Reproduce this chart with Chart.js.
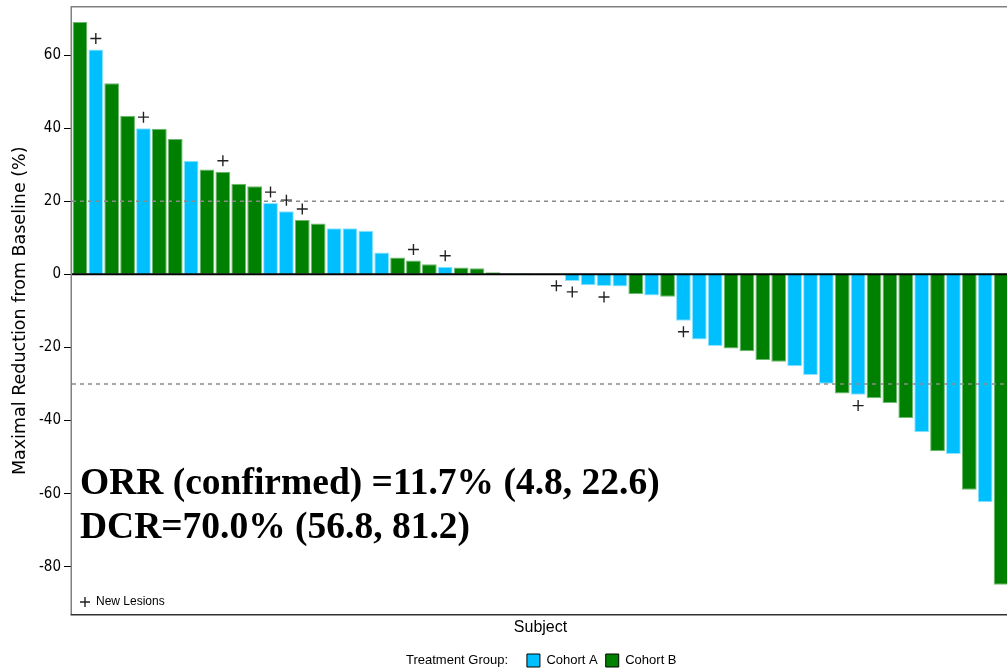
<!DOCTYPE html>
<html>
<head>
<meta charset="utf-8">
<script src="https://cdn.jsdelivr.net/npm/chart.js@4/dist/chart.umd.min.js"></script>
<style>
  html, body { margin: 0; padding: 0; background: #fff; overflow: hidden; }
  canvas { display: block; }
</style>
</head>
<body>
<canvas id="waterfall" width="1063" height="668"></canvas>
<script>
// ==============================
// Datos
// ==============================
const subjects = ['1','2','3','4','5','6','7','8','9','10','11','12','13','14','15','16','17','18','19','20',
  '21','22','23','24','25','26','27','28','29','30','31','32','33','34','35','36','37','38','39','40',
  '41','42','43','44','45','46','47','48','49','50','51','52','53','54','55','56','57','58','59'];

const values = [69.0, 61.5, 52.3, 43.4, 40.0, 39.8, 37.0, 31.1, 28.7, 28.1,
  24.8, 24.1, 19.5, 17.3, 14.9, 13.9, 12.6, 12.6, 11.9, 6.0,
  4.6, 3.8, 2.8, 2.1, 1.9, 1.7, 0.6, 0.3, 0.3, 0,
  -0.1, -1.8, -3.0, -3.2, -3.3, -5.4, -5.8, -6.1, -12.7, -17.8,
  -19.6, -20.3, -21.0, -23.4, -23.9, -25.1, -27.5, -29.9, -32.6, -32.9,
  -33.9, -35.2, -39.3, -43.2, -48.4, -49.1, -58.9, -62.3, -84.9];

const cohort = ['B','A','B','B','A','B','B','A','B','B',
  'B','B','A','A','B','B','A','A','A','A',
  'B','B','B','A','B','B','B','A','A','A',
  'A','A','A','A','A','B','A','B','A','A',
  'A','B','B','B','B','A','A','A','B','A',
  'B','B','B','A','B','A','B','A','B'];

// 1 = nueva lesión
const newLesion = [0,1,0,0,1,0,0,0,0,1,
  0,0,1,1,1,0,0,0,0,0,
  0,1,0,1,0,0,0,0,0,0,
  1,1,0,1,0,0,0,0,1,0,
  0,0,0,0,0,0,0,0,0,1,
  0,0,0,0,0,0,0,0,0];

const yTicks = [60, 40, 20, 0, -20, -40, -60, -80];
const refLines = [20, -30];
const summaryLines = ['ORR (confirmed) =11.7% (4.8, 22.6)', 'DCR=70.0% (56.8, 81.2)'];

// ==============================
// Estilos
// ==============================
const colorA = '#00BFFF';
const colorB = '#008000';
const plusGap = 3;       // separación de la cruz respecto a la barra (unidades del eje)
const narrow = '"Liberation Sans Narrow", "DejaVu Sans Condensed", sans-serif';

function drawCross(ctx, x, y, r) {
  ctx.beginPath();
  ctx.moveTo(x - r, y); ctx.lineTo(x + r, y);
  ctx.moveTo(x, y - r); ctx.lineTo(x, y + r);
  ctx.stroke();
}

// Marco, líneas de referencia y textos
const extras = {
  id: 'extras',
  afterDatasetsDraw(chart) {
    const { ctx, chartArea: a, scales: { y } } = chart;
    ctx.save();
    // líneas punteadas
    ctx.setLineDash([4, 4]);
    ctx.strokeStyle = '#8a8a8a';
    ctx.lineWidth = 1.5;
    refLines.forEach(v => {
      const py = y.getPixelForValue(v);
      ctx.beginPath(); ctx.moveTo(a.left, py); ctx.lineTo(a.right, py); ctx.stroke();
    });
    ctx.setLineDash([]);
    // línea de cero
    const y0 = y.getPixelForValue(0);
    ctx.strokeStyle = '#000';
    ctx.lineWidth = 2;
    ctx.beginPath(); ctx.moveTo(a.left, y0); ctx.lineTo(a.right, y0); ctx.stroke();
    // marco
    ctx.strokeStyle = '#808080';
    ctx.lineWidth = 1.5;
    ctx.beginPath();
    ctx.moveTo(a.left - 0.75, a.bottom); ctx.lineTo(a.left - 0.75, a.top - 0.75); ctx.lineTo(a.right, a.top - 0.75);
    ctx.stroke();
    ctx.strokeStyle = '#333';
    ctx.beginPath(); ctx.moveTo(a.left - 1.5, a.bottom + 0.75); ctx.lineTo(a.right, a.bottom + 0.75); ctx.stroke();
    ctx.restore();
  },
  afterDraw(chart) {
    const { ctx, chartArea: a } = chart;
    ctx.save();
    ctx.fillStyle = '#000';
    ctx.textBaseline = 'alphabetic';
    ctx.font = 'bold 37.5px "Liberation Serif", "Times New Roman", serif';
    ctx.fillText(summaryLines[0], a.left + 8, a.bottom - 120);
    ctx.fillText(summaryLines[1], a.left + 8, a.bottom - 76);
    // leyenda interna de nuevas lesiones
    ctx.strokeStyle = '#222';
    ctx.lineWidth = 1.4;
    drawCross(ctx, a.left + 13, a.bottom - 12, 5);
    ctx.font = '12px "Liberation Sans", Arial, sans-serif';
    ctx.textBaseline = 'middle';
    ctx.fillText('New Lesions', a.left + 24, a.bottom - 12);
    ctx.restore();
  }
};

const cohortAData = values.map((v, i) => cohort[i] === 'A' ? v : null);
const cohortBData = values.map((v, i) => cohort[i] === 'B' ? v : null);
const lesionData = values.map((v, i) => newLesion[i] ? v + (v > 0 ? plusGap : -plusGap) : null);

new Chart(document.getElementById('waterfall').getContext('2d'), {
  type: 'bar',
  data: {
    labels: subjects,
    datasets: [
      { label: 'Cohort A', data: cohortAData, backgroundColor: colorA, borderColor: '#8fe3ff', borderWidth: 1,
        grouped: false, barPercentage: 0.93, categoryPercentage: 1 },
      { label: 'Cohort B', data: cohortBData, backgroundColor: colorB, borderColor: '#6fb86f', borderWidth: 1,
        grouped: false, barPercentage: 0.93, categoryPercentage: 1 },
      { type: 'line', label: 'New Lesions', data: lesionData, showLine: false, pointStyle: 'cross',
        pointRadius: 5.5, pointBorderWidth: 1.4, borderColor: '#222', backgroundColor: '#222' }
    ]
  },
  options: {
    responsive: false,
    devicePixelRatio: 1,
    animation: false,
    events: [],
    layout: { padding: { top: 7.5, bottom: -9, left: 0, right: 0 } },
    plugins: {
      tooltip: { enabled: false },
      legend: {
        position: 'bottom',
        labels: {
          boxWidth: 13, boxHeight: 13, padding: 8, color: '#000',
          font: { family: '"Liberation Sans", Arial, sans-serif', size: 13 },
          generateLabels: () => [
            { text: 'Treatment Group:   ', fillStyle: 'rgba(0,0,0,0)', strokeStyle: 'rgba(0,0,0,0)', lineWidth: 0, fontColor: '#000' },
            { text: 'Cohort A', fillStyle: colorA, strokeStyle: '#000', lineWidth: 1, fontColor: '#000' },
            { text: 'Cohort B', fillStyle: colorB, strokeStyle: '#000', lineWidth: 1, fontColor: '#000' }
          ]
        }
      }
    },
    scales: {
      x: {
        offset: true,
        grid: { display: false },
        border: { display: false },
        ticks: { display: false },
        afterFit: s => { s.height = 32; s.paddingLeft = 0; s.paddingRight = 0; },
        title: { display: true, text: 'Subject', color: '#000',
          font: { family: '"Liberation Sans", Arial, sans-serif', size: 16 }, padding: { top: 0, bottom: 9 } }
      },
      y: {
        min: -92.9, max: 73.0,
        afterBuildTicks: s => { s.ticks = yTicks.map(v => ({ value: v })); },
        afterFit: s => { s.width = 72; s.paddingTop = 0; s.paddingBottom = 0; },
        grid: { drawOnChartArea: false, drawTicks: true, tickLength: 8, tickColor: '#000', tickWidth: 1 },
        border: { display: false },
        ticks: { color: '#000', padding: 3, font: { family: narrow, size: 15 } },
        title: { display: true, text: 'Maximal Reduction from Baseline (%)', color: '#000',
          font: { family: '"DejaVu Sans", sans-serif', size: 17.5 }, padding: { top: 10, bottom: 0 } }
      },
      // eje vacío a la derecha: deja el borde derecho del área fuera de la imagen
      yPad: {
        position: 'right', display: true,
        grid: { display: false }, border: { display: false }, ticks: { display: false },
        afterFit: s => { s.width = 54; s.paddingTop = 0; s.paddingBottom = 0; }
      }
    }
  },
  plugins: [extras]
});
</script>
</body>
</html>
